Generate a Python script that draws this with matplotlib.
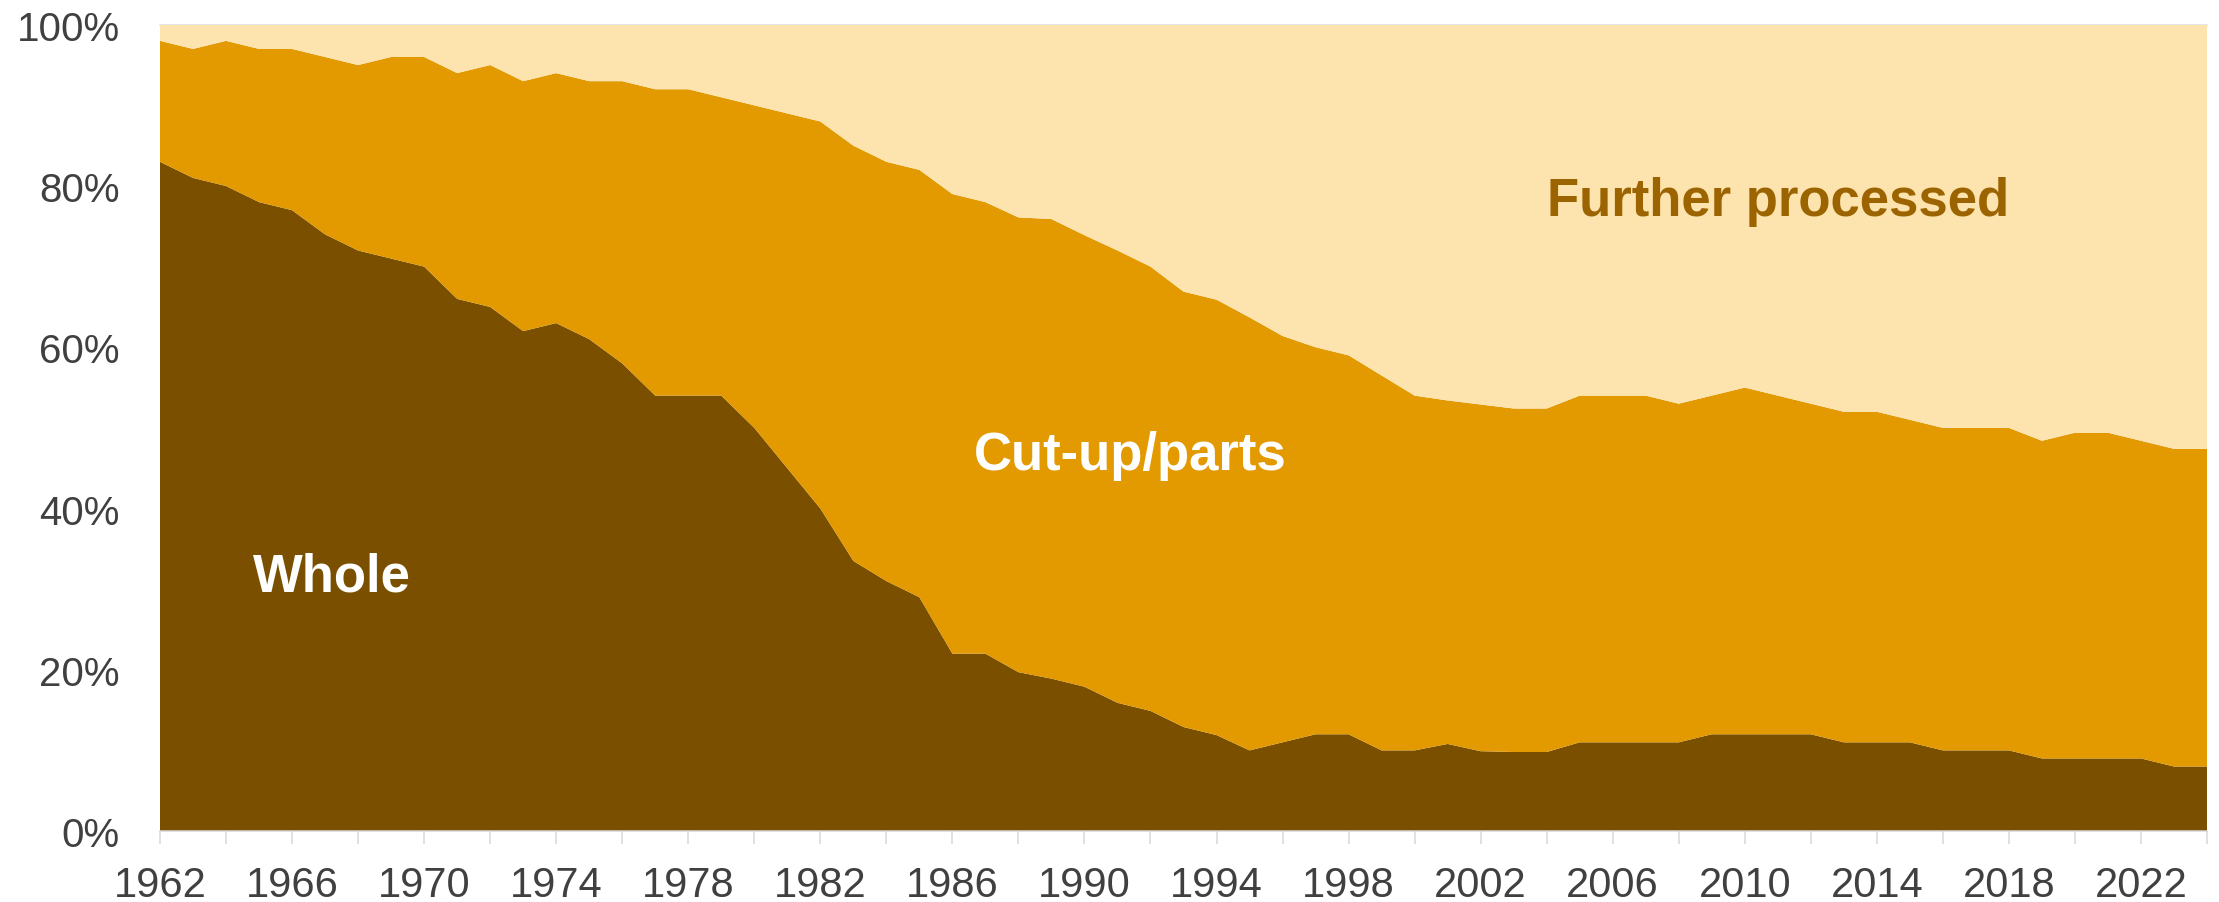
import matplotlib
matplotlib.use("Agg")
import matplotlib.pyplot as plt
import numpy as np

plt.rcParams['font.family'] = ['Liberation Sans', 'DejaVu Sans']

years = list(range(1962, 2025))

# Share of "Whole" (%)
whole = [83, 81, 80, 78, 77, 74, 72, 71, 70, 66,
         65, 62, 63, 61, 58, 54, 54, 54, 50, 45,
         40, 33.5, 31, 29, 22, 22, 19.7, 18.9, 17.9, 15.9,
         14.9, 12.9, 11.9, 10, 11, 12, 12, 10, 10, 10.8,
         9.9, 9.8, 9.8, 11, 11, 11, 11, 12, 12, 12,
         12, 11, 11, 11, 10, 10, 10, 9, 9, 9,
         9, 8, 8]

# Cumulative share of "Whole" + "Cut-up/parts" (%)
whole_plus_cut = [98, 97, 98, 97, 97, 96, 95, 96, 96, 94,
                  95, 93, 94, 93, 93, 92, 92, 91, 90, 89,
                  88, 85, 83, 82, 79, 78, 76.1, 75.9, 73.9, 72,
                  70, 66.9, 65.9, 63.7, 61.4, 60, 59, 56.5, 54, 53.4,
                  52.9, 52.4, 52.4, 54, 54, 54, 53, 54, 55, 54,
                  53, 52, 52, 51, 50, 50, 50, 48.4, 49.4, 49.4,
                  48.4, 47.4, 47.4]

cut = [t - w for t, w in zip(whole_plus_cut, whole)]
further = [100 - t for t in whole_plus_cut]

series_names = ["Whole", "Cut-up/parts", "Further processed"]
colors = ["#7A5000", "#E39900", "#FDE3AD"]

fig = plt.figure(figsize=(22.19, 9.03), dpi=100)
ax = fig.add_axes([0.0721, 0.0786, 0.9225, 0.8929])

ax.stackplot(years, whole, cut, further, colors=colors, linewidth=0, zorder=2)

ax.set_xlim(1962, 2024)
ax.set_ylim(0, 100)

xt = list(range(1962, 2025, 2))
ax.set_xticks(xt)
ax.set_xticklabels([str(y) if (y - 1962) % 4 == 0 else "" for y in xt])
ax.set_yticks(range(0, 101, 20))
ax.set_yticklabels([f"{v}%" for v in range(0, 101, 20)])

ax.tick_params(axis='x', length=9.4, width=1.1, color="#D9D9D9",
               labelsize=30, labelcolor="#404040", pad=15)
ax.tick_params(axis='y', length=0, labelsize=29, labelcolor="#404040", pad=29)

for s in ["left", "right", "top"]:
    ax.spines[s].set_visible(False)
ax.spines["bottom"].set_color("#D9D9D9")
ax.spines["bottom"].set_linewidth(1.1)
ax.spines["bottom"].set_zorder(3)
ax.axhline(100, color="#E3E3E3", linewidth=1.2, zorder=1, clip_on=False)

ax.text(1967.2, 31.6, series_names[0], fontsize=38, fontweight='bold',
        color="white", ha='center', va='center', zorder=4)
ax.text(1991.4, 46.6, series_names[1], fontsize=38, fontweight='bold',
        color="white", ha='center', va='center', zorder=4)
ax.text(2011.0, 78.2, series_names[2], fontsize=38, fontweight='bold',
        color="#9C6400", ha='center', va='center', zorder=4)

fig.savefig("out.png", dpi=100)
